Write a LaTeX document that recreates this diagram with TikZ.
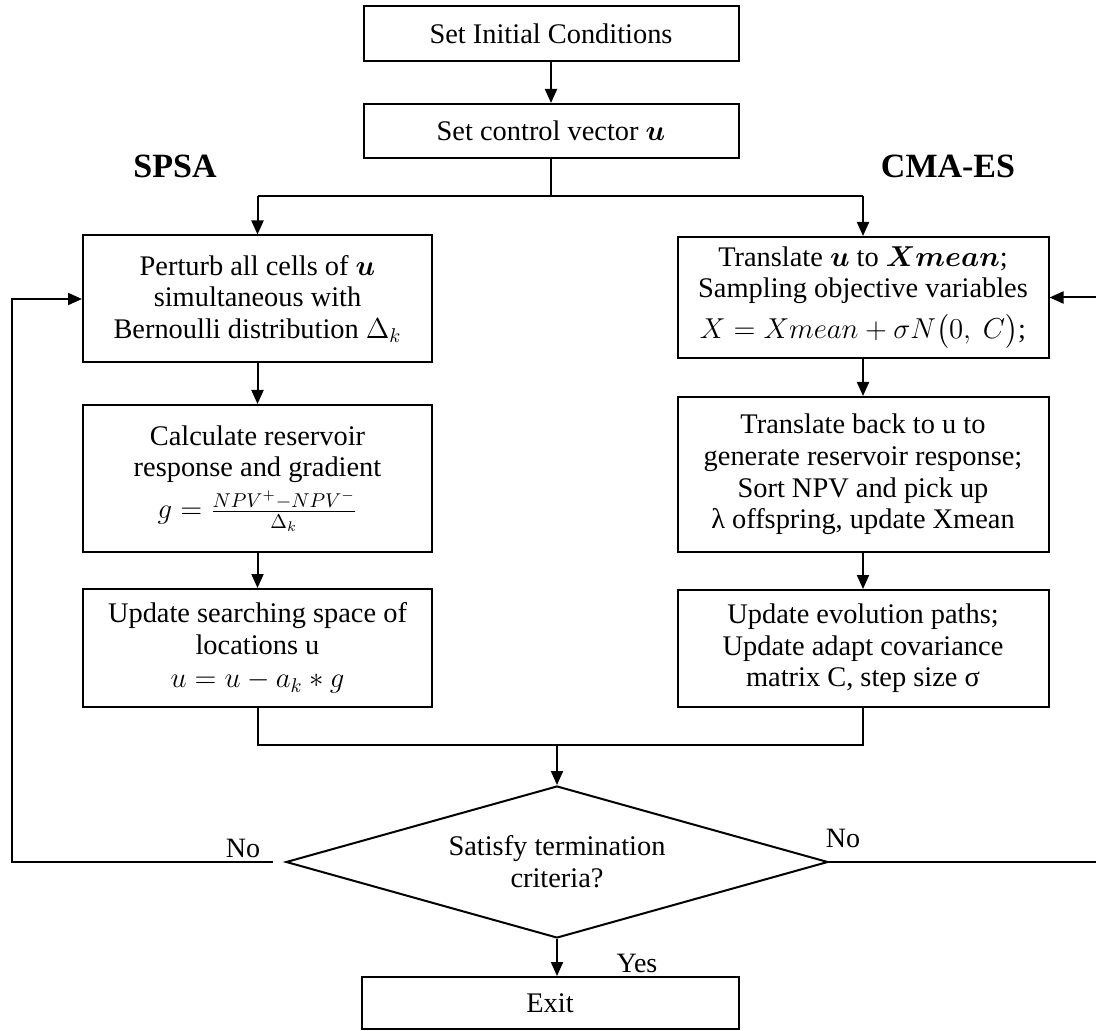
\documentclass[tikz,border=0pt]{standalone}
\usepackage{amsmath,amssymb}
\usepackage{bm}
\usepackage{fontspec}
\setmainfont{Liberation Serif}
\usepackage{tikz}
\usetikzlibrary{arrows.meta,shapes.geometric,calc}

\tikzset{
  stepbox/.style={draw, line width=1pt, align=center, inner sep=2pt,
    font=\fontsize{14.2}{15.8}\selectfont},
  decide/.style={draw, diamond, line width=1pt, align=center, inner sep=0pt,
    aspect=3.5, font=\fontsize{14.2}{16}\selectfont},
  flow/.style={line width=1pt, -{Triangle[length=7pt,width=6pt]}},
  link/.style={line width=1pt},
  branch/.style={font=\bfseries\fontsize{17}{19}\selectfont},
  answer/.style={font=\fontsize{14}{16}\selectfont}
}

\begin{document}
\begin{tikzpicture}[x=0.5pt,y=-0.5pt]
\useasboundingbox (0,0) rectangle (1096,1031);

% main chain
\node[stepbox, minimum width=187.5pt, minimum height=27.5pt] (init) at (551,34) {Set Initial Conditions};
\node[stepbox, minimum width=187.5pt, minimum height=27pt] (ctrl) at (551,131) {Set control vector $\bm{u}$};

\node[branch] (spsa) at (175,166) {SPSA};
\node[branch] (cmaes) at (948,166) {CMA-ES};

% SPSA column
\node[stepbox, minimum width=174.5pt, minimum height=63.5pt] (perturb) at (257.5,299) {Perturb all cells of $\bm{u}$\\ simultaneous with\\ Bernoulli distribution $\Delta_k$};
\node[stepbox, minimum width=174.5pt, minimum height=73.5pt] (calc) at (257.5,478.5) {Calculate reservoir\\ response and gradient\\[3pt] $g=\frac{NPV^{+}-NPV^{-}}{\Delta_k}$};
\node[stepbox, minimum width=174.5pt, minimum height=59pt] (upd) at (257.5,648) {Update searching space of\\ locations u\\[1pt] $u=u-a_k*g$};

% CMA-ES column
\node[stepbox, minimum width=185.5pt, minimum height=60.5pt] (trans) at (863,297.5) {Translate $\bm{u}$ to $\bm{Xmean}$;\\ Sampling objective variables\\[4.5pt] $X=Xmean+\sigma N\bigl(0,\ C\bigr)$;};
\node[stepbox, minimum width=185.5pt, minimum height=77.5pt] (back) at (863,474.5) {Translate back to u to\\ generate reservoir response;\\ Sort NPV and pick up\\ λ offspring, update Xmean};
\node[stepbox, minimum width=185.5pt, minimum height=58.5pt] (evol) at (863,648.5) {Update evolution paths;\\ Update adapt covariance\\ matrix C, step size σ};

% decision and exit
\node[decide, minimum width=271pt, minimum height=76pt] (term) at (557,862) {Satisfy termination\\ criteria?};
\node[stepbox, minimum width=188.5pt, minimum height=26pt] (exit) at (550,1003) {Exit};

\coordinate (split) at (551,196);
\coordinate (merge) at (557,745);
\coordinate (noleft) at (273,862);
\coordinate (loopl) at (12,862);
\coordinate (loopr) at (1104,862);

\draw[flow] (init) -- (ctrl);
\draw[link] (ctrl.south) -- (split);
\draw[link] (perturb.north |- split) -- (trans.north |- split);
\draw[flow] (perturb.north |- split) -- (perturb.north);
\draw[flow] (trans.north |- split) -- (trans.north);

\draw[flow] (perturb) -- (calc);
\draw[flow] (calc) -- (upd);
\draw[flow] (trans) -- (back);
\draw[flow] (back) -- (evol);

\draw[link] (upd.south) |- (merge) -| (evol.south);
\draw[flow] (merge) -- (term.north);
\draw[flow] (term.south) -- (term.south |- exit.north);

% loops back
\draw[flow] (noleft) -- (loopl) |- (perturb.west);
\draw[flow] (term.east) -- (loopr) |- (trans.east);

\node[answer] (nol) at (243,848) {No};
\node[answer] (nor) at (843,838) {No};
\node[answer] (yes) at (637,963) {Yes};
\end{tikzpicture}
\end{document}
